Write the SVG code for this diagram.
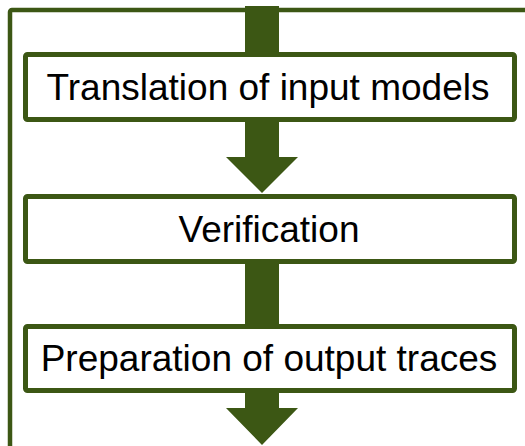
<svg xmlns="http://www.w3.org/2000/svg" width="525" height="446" viewBox="0 0 525 446">
  <style>
    .frame { fill: none; stroke: #3c5714; stroke-width: 4.5; }
    .box { fill: #ffffff; stroke: #3c5714; stroke-width: 5; }
    .arrow { fill: #3c5714; stroke: none; }
    .label { font-family: "Liberation Sans", Arial, sans-serif; font-size: 37px; fill: #000000; text-anchor: middle; }
  </style>
  <rect width="525" height="446" fill="#ffffff"/>
  <rect id="frame" class="frame" x="10" y="10" width="530" height="450" rx="2"/>
  <g id="connectors">
    <rect class="arrow" x="245" y="6" width="34" height="50"/>
    <path class="arrow" d="M245 118 H279 V157 H298 L262 193 L226 157 H245 Z"/>
    <rect class="arrow" x="245" y="258" width="34" height="70"/>
    <path class="arrow" d="M245 388 H279 V408 H298 L262 445 L226 408 H245 Z"/>
  </g>
  <g id="node-translation">
    <rect class="box" x="25.5" y="54.5" width="489" height="65" rx="2"/>
    <text class="label" x="268" y="100">Translation of input models</text>
  </g>
  <g id="node-verification">
    <rect class="box" x="25.5" y="196.5" width="489" height="65" rx="2"/>
    <text class="label" x="269" y="242">Verification</text>
  </g>
  <g id="node-preparation">
    <rect class="box" x="25.5" y="326.5" width="489" height="64" rx="2"/>
    <text class="label" x="269" y="371">Preparation of output traces</text>
  </g>
</svg>
